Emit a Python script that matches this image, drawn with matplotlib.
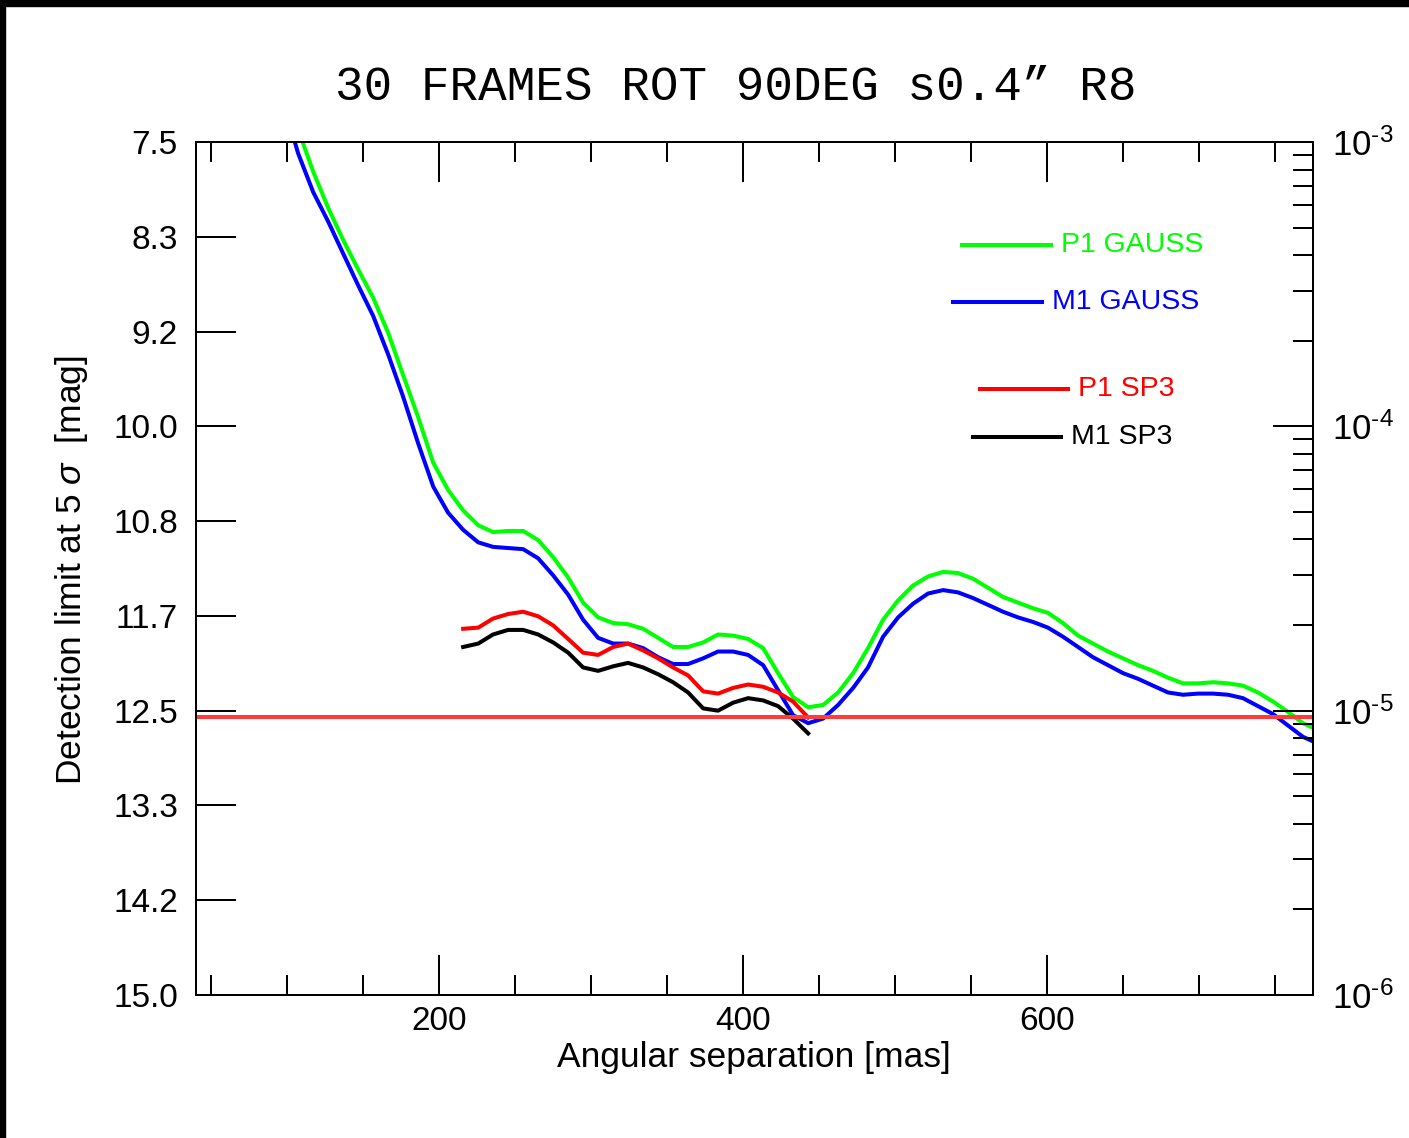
import numpy as np
import matplotlib
matplotlib.use("Agg")
import matplotlib.pyplot as plt
from matplotlib.ticker import MultipleLocator, FixedLocator, LogLocator, FuncFormatter, NullFormatter
from matplotlib.patches import Rectangle

plt.rcParams['font.family'] = ['Liberation Sans', 'DejaVu Sans']
plt.rcParams['mathtext.fontset'] = 'custom'
plt.rcParams['mathtext.rm'] = 'Liberation Sans'
plt.rcParams['mathtext.it'] = 'Liberation Sans:italic'

# angular separation grid [mas]
sep = [97.4, 107.2, 117.1, 127.0, 136.8, 146.7, 156.6, 166.5, 176.3, 186.2,
       196.1, 205.9, 215.8, 225.7, 235.5, 245.4, 255.3, 265.1, 275.0, 284.9,
       294.7, 304.6, 314.5, 324.3, 334.2, 344.1, 353.9, 363.8, 373.7, 383.5,
       393.4, 403.3, 413.2, 423.0, 432.9, 442.8, 452.6, 462.5, 472.4, 482.2,
       492.1, 502.0, 511.8, 521.7, 531.6, 541.4, 551.3, 561.2, 571.0, 580.9,
       590.8, 600.6, 610.5, 620.4, 630.2, 640.1, 650.0, 659.9, 669.7, 679.6,
       689.5, 699.3, 709.2, 719.1, 728.9, 738.8, 748.7, 758.5, 768.4, 778.3]

p1_gauss = [7.02, 7.39, 7.76, 8.08, 8.36, 8.62, 8.87, 9.18, 9.55, 9.92,
            10.32, 10.56, 10.74, 10.87, 10.93, 10.92, 10.92, 11.00, 11.15, 11.33,
            11.55, 11.68, 11.73, 11.74, 11.78, 11.86, 11.94, 11.94, 11.90, 11.83,
            11.84, 11.87, 11.95, 12.17, 12.38, 12.47, 12.45, 12.34, 12.17, 11.95,
            11.70, 11.53, 11.40, 11.32, 11.28, 11.29, 11.34, 11.42, 11.50, 11.55,
            11.60, 11.64, 11.73, 11.84, 11.91, 11.98, 12.04, 12.10, 12.15, 12.21,
            12.26, 12.26, 12.25, 12.26, 12.28, 12.34, 12.42, 12.51, 12.61, 12.67]

m1_gauss = [7.15, 7.60, 7.94, 8.20, 8.48, 8.76, 9.03, 9.37, 9.74, 10.15,
            10.53, 10.76, 10.91, 11.02, 11.06, 11.07, 11.08, 11.16, 11.31, 11.48,
            11.70, 11.86, 11.91, 11.91, 11.95, 12.03, 12.09, 12.09, 12.04, 11.98,
            11.98, 12.01, 12.10, 12.32, 12.54, 12.61, 12.57, 12.45, 12.30, 12.12,
            11.85, 11.68, 11.56, 11.47, 11.44, 11.46, 11.51, 11.57, 11.63, 11.68,
            11.72, 11.77, 11.85, 11.94, 12.03, 12.10, 12.17, 12.22, 12.28, 12.34,
            12.36, 12.35, 12.35, 12.36, 12.39, 12.46, 12.53, 12.63, 12.73, 12.79]

sep_sp3 = sep[12:36]
p1_sp3 = [11.78, 11.77, 11.69, 11.65, 11.63, 11.67, 11.75, 11.87, 11.99, 12.01,
          11.94, 11.91, 11.97, 12.04, 12.12, 12.19, 12.33, 12.35, 12.30, 12.27,
          12.29, 12.34, 12.42, 12.56]
m1_sp3 = [11.94, 11.91, 11.83, 11.79, 11.79, 11.83, 11.90, 11.99, 12.12, 12.15,
          12.11, 12.08, 12.12, 12.18, 12.25, 12.34, 12.48, 12.50, 12.43, 12.39,
          12.41, 12.46, 12.57, 12.70]

threshold = 12.56
mag_ticks = np.linspace(7.5, 15.0, 10)

fig = plt.figure(figsize=(14.09, 11.38), dpi=100)
ax = fig.add_axes([196/1409, 1 - 995/1138, 1117/1409, 853/1138])

lw = 2.9
ax.plot(sep, p1_gauss, color='#00ff00', lw=lw)
ax.plot(sep, m1_gauss, color='#0000ff', lw=lw)
ax.plot(sep_sp3, p1_sp3, color='#ff0000', lw=lw)
ax.plot(sep_sp3, m1_sp3, color='black', lw=lw)
ax.plot([40, 773], [threshold, threshold], color='#ff3b3b', lw=lw)

ax.set_xlim(40, 775)
ax.set_ylim(15.0, 7.5)
ax.xaxis.set_major_locator(FixedLocator([200, 400, 600]))
ax.xaxis.set_minor_locator(MultipleLocator(50))
ax.yaxis.set_major_locator(FixedLocator(mag_ticks))
ax.yaxis.set_major_formatter(FuncFormatter(lambda v, p: '%.1f' % v))
ax.tick_params(axis='x', which='both', direction='in', top=True, width=1.44, labelsize=24, pad=8)
ax.tick_params(axis='x', which='major', length=28.8)
ax.tick_params(axis='x', which='minor', length=14.4)
ax.tick_params(axis='y', which='major', direction='in', right=False, length=28.8, width=1.44,
               labelsize=24, pad=13)
for s in ax.spines.values():
    s.set_linewidth(1.44)

ax2 = ax.twinx()
ax2.set_yscale('log')
ax2.set_ylim(1e-6, 1e-3)
ax2.yaxis.set_major_locator(LogLocator(base=10, numticks=10))
ax2.yaxis.set_minor_locator(LogLocator(base=10, subs=np.arange(2, 10), numticks=10))
ax2.yaxis.set_major_formatter(FuncFormatter(
    lambda v, p: r'$\mathregular{10^{\text{-}%d}}$' % abs(round(np.log10(v)))))
ax2.yaxis.set_minor_formatter(NullFormatter())
ax2.tick_params(axis='y', which='both', direction='in', width=1.44, labelsize=25, pad=14)
ax2.tick_params(axis='y', which='major', length=28.8)
ax2.tick_params(axis='y', which='minor', length=14.4)
for s in ax2.spines.values():
    s.set_linewidth(1.44)

# legend drawn by hand
legend = [('P1 GAUSS', '#00ff00', 0.686, 0.765, 0.879),
          ('M1 GAUSS', '#0000ff', 0.678, 0.757, 0.812),
          ('P1 SP3', '#ff0000', 0.702, 0.781, 0.710),
          ('M1 SP3', 'black', 0.696, 0.774, 0.654)]
for name, col, x0, x1, y in legend:
    ax.plot([x0, x1], [y, y], color=col, lw=lw, transform=ax.transAxes)
    ax.text(x1 + 0.009, y, name, color=col, fontsize=20.5, ha='left', va='center',
            transform=ax.transAxes)

fig.text(736/1409, 1 - 87/1138, '30 FRAMES ROT 90DEG s0.4\u201d R8', family='Liberation Mono',
         fontsize=34.3, ha='center', va='center')
fig.text(754/1409, 1 - 1057/1138, 'Angular separation [mas]', fontsize=25.5, ha='center', va='center')
fig.text(72/1409, 1 - 570/1138, r'Detection limit at 5 $\sigma$  [mag]', fontsize=25.5,
         ha='center', va='center', rotation=90)

# black frame on top and left edges
fig.patches.append(Rectangle((0, 1 - 6/1138), 1, 6/1138, transform=fig.transFigure,
                             color='black', zorder=10))
fig.patches.append(Rectangle((0, 0), 5/1409, 1, transform=fig.transFigure,
                             color='black', zorder=10))

fig.savefig('out.png', dpi=100)
